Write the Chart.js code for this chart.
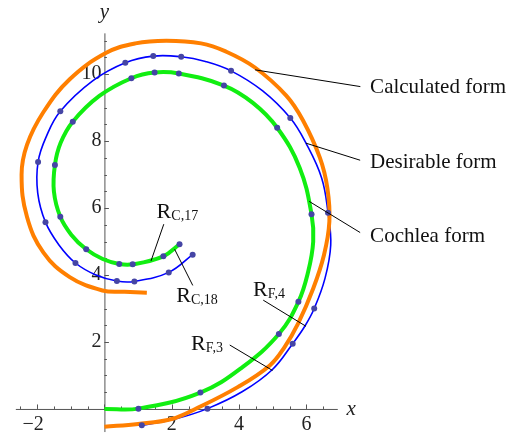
<!DOCTYPE html>
<html>
<head>
<meta charset="utf-8">
<script src="https://cdn.jsdelivr.net/npm/chart.js@4.4.1/dist/chart.umd.min.js"></script>
<style>
  html, body { margin: 0; padding: 0; background: #fff; }
  #wrap { width: 520px; height: 438px; }
</style>
</head>
<body>
<div id="wrap"><canvas id="spiral" width="520" height="438"></canvas></div>
<script>
// calculated form (orange curve, no markers)
const calcX = [0, 1.0, 2.0, 2.7, 3.97, 4.91, 5.35, 5.75, 6.2, 6.52, 6.68, 6.62, 6.4, 5.89, 5.4, 4.47, 3.6, 2.87, 1.84, 0.92, 0.04, -1.03, -1.81, -2.3, -2.46, -2.3, -1.81, -1.03, -0.06, 0.6, 1.26];
const calcY = [-0.53, -0.45, -0.3, 0.0, 0.66, 1.3, 1.85, 2.55, 3.6, 4.6, 5.6, 6.6, 7.5, 8.63, 9.36, 10.2, 10.68, 10.92, 11.0, 10.92, 10.63, 9.85, 8.87, 7.89, 7.0, 5.74, 4.67, 3.94, 3.54, 3.5, 3.47];

// desirable form: the measured points and the curve through them
const desX = [1.11, 3.06, 5.59, 6.23, 6.64, 5.52, 3.76, 2.28, 1.45, 0.62, -1.31, -1.97, -1.75, -0.86, 0.37, 0.89, 1.91, 2.62];
const desY = [-0.49, 0.01, 1.95, 3.0, 5.86, 8.69, 10.1, 10.52, 10.54, 10.34, 8.89, 7.38, 5.58, 4.36, 3.82, 3.81, 4.08, 4.61];
const desLineX = [1.11, 2.1, 3.06, 4.1, 4.99, 5.59, 5.95, 6.23, 6.55, 6.72, 6.64, 6.45, 5.985, 5.52, 4.7, 3.76, 3.0, 2.28, 1.45, 0.62, -0.35, -1.31, -1.72, -1.97, -1.98, -1.75, -1.35, -0.86, -0.25, 0.37, 0.89, 1.91, 2.62];
const desLineY = [-0.49, -0.3, 0.01, 0.52, 1.18, 1.95, 2.47, 3.0, 3.9, 4.9, 5.86, 6.9, 7.94, 8.69, 9.5, 10.1, 10.38, 10.52, 10.54, 10.34, 9.8, 8.89, 8.15, 7.38, 6.45, 5.58, 4.9, 4.36, 4.0, 3.82, 3.81, 4.08, 4.61];

// cochlea form: the measured points and the curve, which starts at the origin
const cochX = [1.01, 2.85, 5.18, 5.76, 6.15, 5.13, 3.55, 2.21, 1.49, 0.80, -0.94, -1.47, -1.31, -0.54, 0.44, 0.84, 1.75, 2.23];
const cochY = [0.01, 0.49, 2.24, 3.2, 5.82, 8.4, 9.66, 10.02, 10.05, 9.88, 8.58, 7.29, 5.74, 4.77, 4.33, 4.32, 4.56, 4.92];
const cochLineX = [0, 1.01, 2.85, 4.1, 5.18, 5.76, 6.05, 6.2, 6.15, 5.8, 5.13, 4.4, 3.55, 2.21, 1.49, 0.80, -0.15, -0.94, -1.3, -1.47, -1.5, -1.31, -0.98, -0.54, -0.05, 0.44, 0.84, 1.75, 2.23];
const cochLineY = [0, 0.01, 0.49, 1.25, 2.24, 3.2, 4.1, 5.0, 5.82, 7.2, 8.4, 9.15, 9.66, 10.02, 10.05, 9.88, 9.35, 8.58, 7.95, 7.29, 6.5, 5.74, 5.2, 4.77, 4.48, 4.33, 4.32, 4.56, 4.92];

const xTickLabels = [-2, 2, 4, 6];
const yTickLabels = [2, 4, 6, 8, 10];

const pts = (xs, ys) => xs.map((x, i) => ({ x: x, y: ys[i] }));

const SERIF = '"Liberation Serif", "DejaVu Serif", serif';
const DOT = '#4545a5';

// callouts: [text, text x, text y, line from x, y, line to x, y]
const names = [
  ['Calculated form', 7.89, 9.44, 4.474, 10.13, 7.60, 9.63],
  ['Desirable form', 7.89, 7.21, 5.985, 7.94, 7.594, 7.43],
  ['Cochlea form', 7.89, 4.99, 6.082, 6.20, 7.594, 5.27]
];
const radii = [
  ['C,17', 1.55, 5.70, 1.763, 5.52, 1.383, 4.42],
  ['C,18', 2.135, 3.21, 2.085, 4.77, 2.623, 3.69],
  ['F,4', 4.415, 3.36, 4.716, 3.25, 5.985, 2.47],
  ['F,3', 2.573, 1.77, 3.722, 1.91, 4.991, 1.15]
];

const axesPlugin = {
  id: 'axes',
  beforeDatasetsDraw(chart) {
    const ctx = chart.ctx, sx = chart.scales.x, sy = chart.scales.y;
    const x0 = sx.getPixelForValue(0), y0 = sy.getPixelForValue(0);
    const xa = [-2.63, 6.93], ya = [-0.69, 11.22];
    ctx.save();
    ctx.strokeStyle = '#555';
    ctx.lineWidth = 1;
    ctx.beginPath();
    ctx.moveTo(sx.getPixelForValue(xa[0]), y0 + 0.5);
    ctx.lineTo(sx.getPixelForValue(xa[1]), y0 + 0.5);
    ctx.moveTo(x0 + 0.5, sy.getPixelForValue(ya[0]));
    ctx.lineTo(x0 + 0.5, sy.getPixelForValue(ya[1]));
    // minor every 0.5, major every 2
    for (let v = -2.5; v <= 6.9; v += 0.5) {
      const p = Math.round(sx.getPixelForValue(v)) + 0.5;
      const len = v % 2 === 0 ? 4.5 : 2.5;
      ctx.moveTo(p, y0);
      ctx.lineTo(p, y0 - len);
    }
    for (let v = 0.5; v <= 11.2; v += 0.5) {
      const p = Math.round(sy.getPixelForValue(v)) + 0.5;
      const len = v % 2 === 0 ? 4.5 : 2.5;
      ctx.moveTo(x0, p);
      ctx.lineTo(x0 + len, p);
    }
    ctx.stroke();

    ctx.fillStyle = '#222';
    ctx.font = '20px ' + SERIF;
    ctx.textAlign = 'center';
    ctx.textBaseline = 'top';
    xTickLabels.forEach(v => {
      ctx.fillText(v < 0 ? '\u2212' + Math.abs(v) : String(v), sx.getPixelForValue(v) - (v < 0 ? 4 : 0), y0 + 6);
    });
    ctx.textAlign = 'right';
    ctx.textBaseline = 'middle';
    yTickLabels.forEach(v => {
      ctx.fillText(String(v), x0 - 3, sy.getPixelForValue(v));
    });
    ctx.font = 'italic 21px ' + SERIF;
    ctx.textAlign = 'left';
    ctx.textBaseline = 'alphabetic';
    ctx.fillText('x', sx.getPixelForValue(7.19), sy.getPixelForValue(-0.19));
    ctx.textAlign = 'center';
    ctx.fillText('y', x0, sy.getPixelForValue(11.69));
    ctx.restore();
  },
  afterDatasetsDraw(chart) {
    const ctx = chart.ctx, sx = chart.scales.x, sy = chart.scales.y;
    ctx.save();
    ctx.strokeStyle = '#000';
    ctx.lineWidth = 1;
    ctx.fillStyle = '#111';
    ctx.textBaseline = 'alphabetic';
    ctx.textAlign = 'left';
    const leader = (a, b, c, d) => {
      ctx.beginPath();
      ctx.moveTo(sx.getPixelForValue(a), sy.getPixelForValue(b));
      ctx.lineTo(sx.getPixelForValue(c), sy.getPixelForValue(d));
      ctx.stroke();
    };
    names.forEach(n => {
      leader(n[3], n[4], n[5], n[6]);
      ctx.font = '21px ' + SERIF;
      ctx.fillText(n[0], sx.getPixelForValue(n[1]), sy.getPixelForValue(n[2]));
    });
    radii.forEach(r => {
      leader(r[3], r[4], r[5], r[6]);
      const tx = sx.getPixelForValue(r[1]), ty = sy.getPixelForValue(r[2]);
      ctx.font = '22px ' + SERIF;
      ctx.fillText('R', tx, ty);
      const w = ctx.measureText('R').width;
      ctx.font = '14px ' + SERIF;
      ctx.fillText(r[0], tx + w, ty + 2);
    });
    ctx.restore();
  }
};

const curve = (label, xs, ys, color, width) => ({
  label: label,
  data: pts(xs, ys),
  showLine: true,
  borderColor: color,
  backgroundColor: color,
  borderWidth: width,
  tension: 0.4,
  pointRadius: 0
});
const dots = (label, xs, ys) => ({
  label: label,
  data: pts(xs, ys),
  showLine: false,
  pointRadius: 3,
  pointStyle: 'circle',
  borderColor: DOT,
  backgroundColor: DOT,
  pointBackgroundColor: DOT,
  pointBorderColor: DOT,
  pointBorderWidth: 0
});

// chart.js paints the first dataset last, so markers come first here
new Chart(document.getElementById('spiral'), {
  type: 'scatter',
  data: {
    datasets: [
      dots('Cochlea points', cochX, cochY),
      dots('Desirable points', desX, desY),
      curve('Cochlea form', cochLineX, cochLineY, '#11ee11', 4),
      curve('Calculated form', calcX, calcY, '#ff7f00', 4),
      curve('Desirable form', desLineX, desLineY, '#0000ff', 1.6)
    ]
  },
  options: {
    responsive: false,
    animation: false,
    devicePixelRatio: 1,
    layout: { padding: 0 },
    plugins: { legend: { display: false }, tooltip: { enabled: false } },
    scales: {
      x: { type: 'linear', display: false, min: -2.982, max: 12.222 },
      y: { type: 'linear', display: false, min: -0.748, max: 12.097 }
    }
  },
  plugins: [axesPlugin]
});
</script>
</body>
</html>
